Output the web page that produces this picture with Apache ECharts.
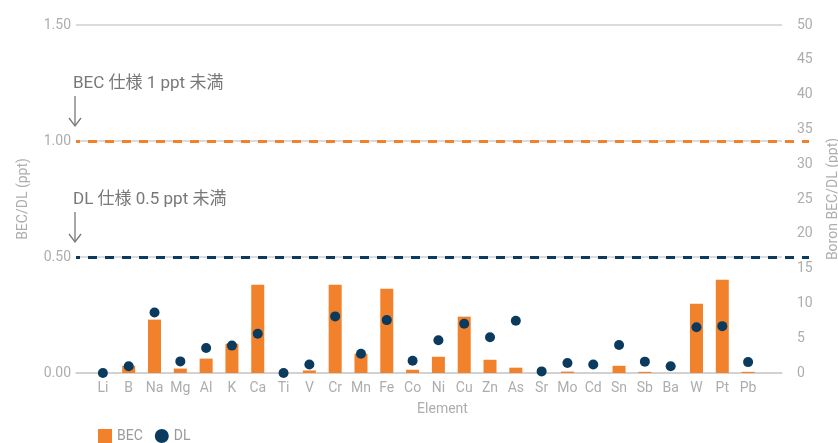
<!DOCTYPE html>
<html>
<head>
<meta charset="utf-8">
<script src="https://cdn.jsdelivr.net/npm/echarts@6/dist/echarts.min.js"></script>
<style>
  html, body { margin: 0; padding: 0; background: #ffffff; }
  #chart { width: 838px; height: 443px; }
</style>
</head>
<body>
<div id="chart"></div>
<script>
// Elements measured, background equivalent concentration and detection limit (ppt)
const elements = ['Li', 'B', 'Na', 'Mg', 'Al', 'K', 'Ca', 'Ti', 'V', 'Cr', 'Mn', 'Fe', 'Co',
  'Ni', 'Cu', 'Zn', 'As', 'Sr', 'Mo', 'Cd', 'Sn', 'Sb', 'Ba', 'W', 'Pt', 'Pb'];
const becValues = [0, 0.031, 0.23, 0.019, 0.062, 0.126, 0.38, 0, 0.011, 0.38, 0.083, 0.363, 0.014,
  0.07, 0.243, 0.057, 0.023, 0, 0.006, 0, 0.031, 0.005, 0, 0.298, 0.402, 0.005];
const dlValues = [0, 0.029, 0.261, 0.05, 0.108, 0.118, 0.169, 0, 0.037, 0.244, 0.083, 0.228, 0.053,
  0.141, 0.212, 0.154, 0.225, 0.007, 0.043, 0.037, 0.121, 0.049, 0.029, 0.197, 0.202, 0.047];

// Specification limits (ppt) and their captions
const specValues = [1, 0.5];
const specLabels = ['BEC 仕様 1 ppt 未満', 'DL 仕様 0.5 ppt 未満'];

// Axis ranges and ticks
const leftMax = 1.5, leftStep = 0.5;
const rightMax = 50, rightStep = 5;

const ORANGE = '#F2812B';
const NAVY = '#0B3A5F';
const GRID_GRAY = '#CFCFCF';
const LABEL_GRAY = '#ADADAD';
const NOTE_GRAY = '#787878';
const FONT = 'Roboto, "Noto Sans CJK JP", sans-serif';

const chart = echarts.init(document.getElementById('chart'));

const gridTop = 25, gridBottom = 70;

const option = {
  animation: false,
  textStyle: { fontFamily: FONT },
  grid: [
    // axis frame
    { left: 76, right: 56, top: gridTop, bottom: gridBottom, outerBoundsMode: 'none' },
    // data
    { left: 90, right: 77, top: gridTop, bottom: gridBottom, outerBoundsMode: 'none' },
    // reference lines
    { left: 76, right: 29, top: gridTop, bottom: gridBottom, outerBoundsMode: 'none' }
  ],
  legend: {
    data: [{ name: 'BEC', icon: 'rect' }, { name: 'DL', icon: 'circle' }],
    left: 93, top: 424,
    itemWidth: 14, itemHeight: 14, itemGap: 12,
    textStyle: { color: '#9A9A9A', fontSize: 14, fontFamily: FONT }
  },
  xAxis: [
    {
      gridIndex: 0, type: 'value', min: 0, max: 1,
      axisLine: { show: true, onZero: false, lineStyle: { color: GRID_GRAY, width: 1.5 } },
      axisTick: { show: false }, axisLabel: { show: false }, splitLine: { show: false }
    },
    {
      gridIndex: 1, type: 'category', data: elements,
      axisLine: { show: false }, axisTick: { show: false },
      axisLabel: { color: LABEL_GRAY, fontSize: 14, margin: 9, interval: 0, fontFamily: FONT }
    },
    {
      gridIndex: 2, type: 'value', min: 0, max: 1,
      axisLine: { show: false }, axisTick: { show: false }, axisLabel: { show: false },
      splitLine: { show: false },
      name: 'Element', nameLocation: 'middle', nameGap: 30,
      nameTextStyle: { color: LABEL_GRAY, fontSize: 14, fontFamily: FONT }
    }
  ],
  yAxis: [
    {
      gridIndex: 0, type: 'value', position: 'left', min: 0, max: leftMax, interval: leftStep,
      axisLine: { show: false }, axisTick: { show: false },
      axisLabel: { color: LABEL_GRAY, fontSize: 14, margin: 5, fontFamily: FONT,
        formatter: v => v.toFixed(2) },
      splitLine: { show: true, lineStyle: { color: GRID_GRAY, width: 1.5 } },
      name: 'BEC/DL (ppt)', nameLocation: 'middle', nameGap: 46,
      nameTextStyle: { color: LABEL_GRAY, fontSize: 14, fontFamily: FONT }
    },
    {
      gridIndex: 0, type: 'value', position: 'right', min: 0, max: rightMax, interval: rightStep,
      axisLine: { show: false }, axisTick: { show: false },
      axisLabel: { color: LABEL_GRAY, fontSize: 14, margin: 15, fontFamily: FONT },
      splitLine: { show: false },
      name: 'Boron BEC/DL (ppt)', nameLocation: 'middle', nameGap: 44,
      nameTextStyle: { color: LABEL_GRAY, fontSize: 14, fontFamily: FONT }
    },
    { gridIndex: 1, type: 'value', min: 0, max: leftMax, show: false },
    { gridIndex: 2, type: 'value', min: 0, max: leftMax, show: false }
  ],
  series: [
    {
      name: 'BEC', type: 'bar', xAxisIndex: 1, yAxisIndex: 2,
      data: becValues, barWidth: 13,
      itemStyle: { color: ORANGE }
    },
    {
      name: 'DL', type: 'scatter', xAxisIndex: 1, yAxisIndex: 2,
      data: dlValues, symbolSize: 10, z: 3,
      itemStyle: { color: NAVY, opacity: 1 }
    },
    {
      name: 'spec', type: 'line', xAxisIndex: 2, yAxisIndex: 3, data: [],
      markLine: {
        silent: true, symbol: 'none', label: { show: false },
        data: [
          { yAxis: specValues[0], lineStyle: { color: ORANGE, type: [9, 8], dashOffset: 5, width: 3 } },
          { yAxis: specValues[1], lineStyle: { color: NAVY, type: [9, 8], dashOffset: 5, width: 3 } }
        ]
      }
    }
  ]
};

chart.setOption(option);

// Captions with downward arrows above each specification line
const notes = [];
specValues.forEach((v, i) => {
  const y = chart.convertToPixel({ yAxisIndex: 3 }, v);
  const x = 75;
  notes.push(
    {
      type: 'text', left: 73, top: y - 56 - 10,
      style: { text: specLabels[i], fill: NOTE_GRAY, fontSize: 17, fontFamily: FONT }
    },
    {
      type: 'line',
      shape: { x1: x, y1: y - 45, x2: x, y2: y - 15 },
      style: { stroke: NOTE_GRAY, lineWidth: 1.3 }
    },
    {
      type: 'polyline',
      shape: { points: [[x - 6, y - 23], [x, y - 15], [x + 6, y - 23]] },
      style: { stroke: NOTE_GRAY, lineWidth: 1.3, fill: null }
    }
  );
});
chart.setOption({ graphic: notes });
</script>
</body>
</html>
